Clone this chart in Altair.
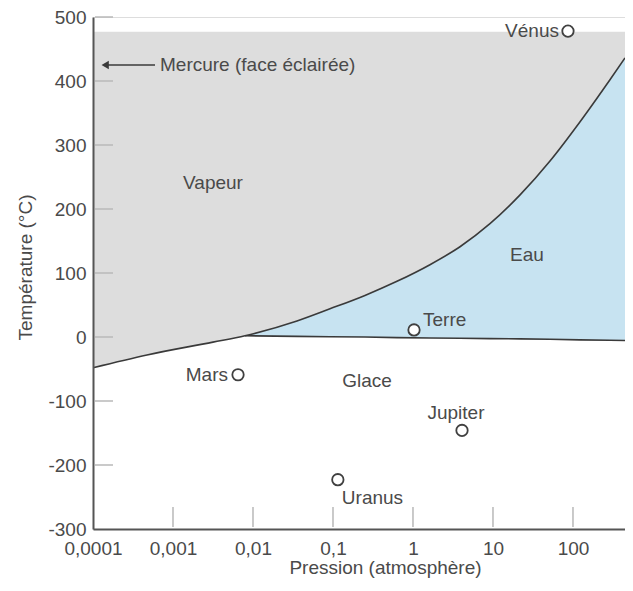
import altair as alt
import pandas as pd

# Vapour-pressure / sublimation curve of water
curve_p = [0.0001, 0.000473, 0.00316, 0.00794, 0.0355, 0.0917, 0.251, 0.631,
           1.63, 3.87, 9.17, 21.8, 51.6, 122, 290, 447]
curve_t = [-48, -28, -8, 2, 25, 44, 65, 87, 113, 141, 177, 222, 275, 336, 402, 436]

# Melting line, from the triple point to the right edge
melt_p = [0.00794, 0.0355, 0.0917, 0.251, 0.631, 1.63, 3.87, 9.17, 21.8, 51.6, 122, 290, 447]
melt_t = [2, 1, 0.5, 0, -1, -1.5, -2, -2.5, -3, -3.5, -4.5, -5, -5.5]

vapour_top = 477

planets = ["Vénus", "Terre", "Mars", "Jupiter", "Uranus"]
planet_p = [86.6, 1.03, 0.0065, 4.1, 0.115]
planet_t = [478, 11, -59, -146, -223]

regions = ["Vapeur", "Eau", "Glace"]
region_p = [0.00316, 26.6, 0.266]
region_t = [240, 128, -68]

mercure_label = ["Mercure (face éclairée)"]
mercure_p = [0.000688]
mercure_t = [425]
arrow_p = [0.000141, 0.000596]
arrow_head_p = [0.000142]

x_ticks = [0.0001, 0.001, 0.01, 0.1, 1, 10, 100]
y_ticks = [-300, -200, -100, 0, 100, 200, 300, 400, 500]
x_domain = [0.0001, 447]
y_domain = [-300, 500]

FONT = "Liberation Sans"
TXT = "#4a4a4a"
FS = 19
W, H = 532, 512

xscale = alt.Scale(type="log", domain=x_domain, nice=False)
yscale = alt.Scale(domain=y_domain, nice=False, zero=False)

xaxis = alt.Axis(values=x_ticks, labelExpr="replace(toString(datum.value), '.', ',')",
                 title="Pression (atmosphère)", ticks=False, grid=False,
                 domainColor="#555555", domainWidth=2, labelFont=FONT, labelFontSize=FS,
                 labelColor=TXT, labelPadding=10, labelFlush=False, labelOverlap=False,
                 titleFont=FONT, titleFontSize=FS, titleColor=TXT, titleFontWeight="normal",
                 titleX=292, titleY=29, titleBaseline="top", zindex=1)
yaxis = alt.Axis(values=y_ticks, labelExpr="toString(datum.value)",
                 title="Température (°C)", ticks=False, grid=False,
                 domainColor="#555555", domainWidth=2, labelFont=FONT, labelFontSize=FS,
                 labelColor=TXT, labelPadding=7, labelFlush=False, labelOverlap=False,
                 titleFont=FONT, titleFontSize=FS, titleColor=TXT, titleFontWeight="normal",
                 titleX=-58, titleY=250, zindex=1)


def X(field="p"):
    return alt.X(f"{field}:Q", scale=xscale, axis=xaxis)


def Y(field="t"):
    return alt.Y(f"{field}:Q", scale=yscale, axis=yaxis)


curve_lookup = dict(zip(curve_p, curve_t))
curve_df = pd.DataFrame({"p": curve_p, "t": curve_t, "top": [vapour_top] * len(curve_p)})
melt_df = pd.DataFrame({"p": melt_p, "t": melt_t, "top": [curve_lookup[p] for p in melt_p]})

vap_area = alt.Chart(curve_df).mark_area(color="#dddddd", interpolate="monotone", clip=True).encode(
    x=X(), y=Y(), y2="top:Q")
liq_area = alt.Chart(melt_df).mark_area(color="#c7e3f1", interpolate="monotone", clip=True).encode(
    x=X(), y=Y(), y2="top:Q")
curve_line = alt.Chart(curve_df).mark_line(color="#3a3a3a", strokeWidth=1.6,
                                           interpolate="monotone", clip=True).encode(x=X(), y=Y())
melt_line = alt.Chart(melt_df).mark_line(color="#3a3a3a", strokeWidth=1.6, clip=True).encode(
    x=X(), y=Y())

ytick_df = pd.DataFrame({"t": [v for v in y_ticks if v != y_domain[0]]})
xtick_df = pd.DataFrame({"p": [v for v in x_ticks if v != x_domain[0]]})
ytick_rules = alt.Chart(ytick_df).mark_rule(color="#b8b8b8", strokeWidth=1.5).encode(
    y=Y(), x=alt.value(2), x2=alt.value(20))
xtick_rules = alt.Chart(xtick_df).mark_rule(color="#b8b8b8", strokeWidth=1.5).encode(
    x=X(), y=alt.value(H - 2), y2=alt.value(H - 22))

planet_df = pd.DataFrame({"name": planets, "p": planet_p, "t": planet_t})
points = alt.Chart(planet_df).mark_point(shape="circle", filled=True, fill="white",
                                          stroke="#404040", strokeWidth=1.8, size=130,
                                          opacity=1).encode(x=X(), y=Y())

label_style = {
    "Vénus": dict(align="right", dx=-9, dy=0),
    "Terre": dict(align="left", dx=9, dy=-10),
    "Mars": dict(align="right", dx=-10, dy=0),
    "Jupiter": dict(align="center", dx=-6, dy=-17),
    "Uranus": dict(align="left", dx=4, dy=18),
}
planet_labels = []
for name in planets:
    st = label_style[name]
    planet_labels.append(
        alt.Chart(planet_df).transform_filter(alt.datum.name == name)
        .mark_text(font=FONT, fontSize=FS, color=TXT, baseline="middle", **st)
        .encode(x=X(), y=Y(), text="name:N"))

region_df = pd.DataFrame({"name": regions, "p": region_p, "t": region_t})
region_labels = alt.Chart(region_df).mark_text(font=FONT, fontSize=FS, color=TXT,
                                               align="center", baseline="middle").encode(
    x=X(), y=Y(), text="name:N")

merc_df = pd.DataFrame({"name": mercure_label, "p": mercure_p, "t": mercure_t})
merc_text = alt.Chart(merc_df).mark_text(font=FONT, fontSize=FS, color=TXT, align="left",
                                         baseline="middle").encode(x=X(), y=Y(), text="name:N")
arrow_df = pd.DataFrame({"p": [arrow_p[0]], "p2": [arrow_p[1]], "t": mercure_t})
arrow_line = alt.Chart(arrow_df).mark_rule(color="#3a3a3a", strokeWidth=1.6).encode(
    x=X(), x2="p2:Q", y=Y())
head_df = pd.DataFrame({"p": arrow_head_p, "t": mercure_t})
arrow_head = alt.Chart(head_df).mark_point(shape="triangle-left", filled=True, color="#3a3a3a",
                                           size=70, opacity=1).encode(x=X(), y=Y())

chart = alt.layer(
    vap_area, liq_area, ytick_rules, xtick_rules, curve_line, melt_line,
    arrow_line, arrow_head, points, *planet_labels, region_labels, merc_text,
).properties(
    width=W, height=H,
    autosize=alt.AutoSizeParams(type="none"),
    padding={"left": 85, "top": 9, "right": 0, "bottom": 49},
).configure_view(stroke=None).configure(background="white")

chart.save("out.html", embed_options={"renderer": "svg", "actions": False})
